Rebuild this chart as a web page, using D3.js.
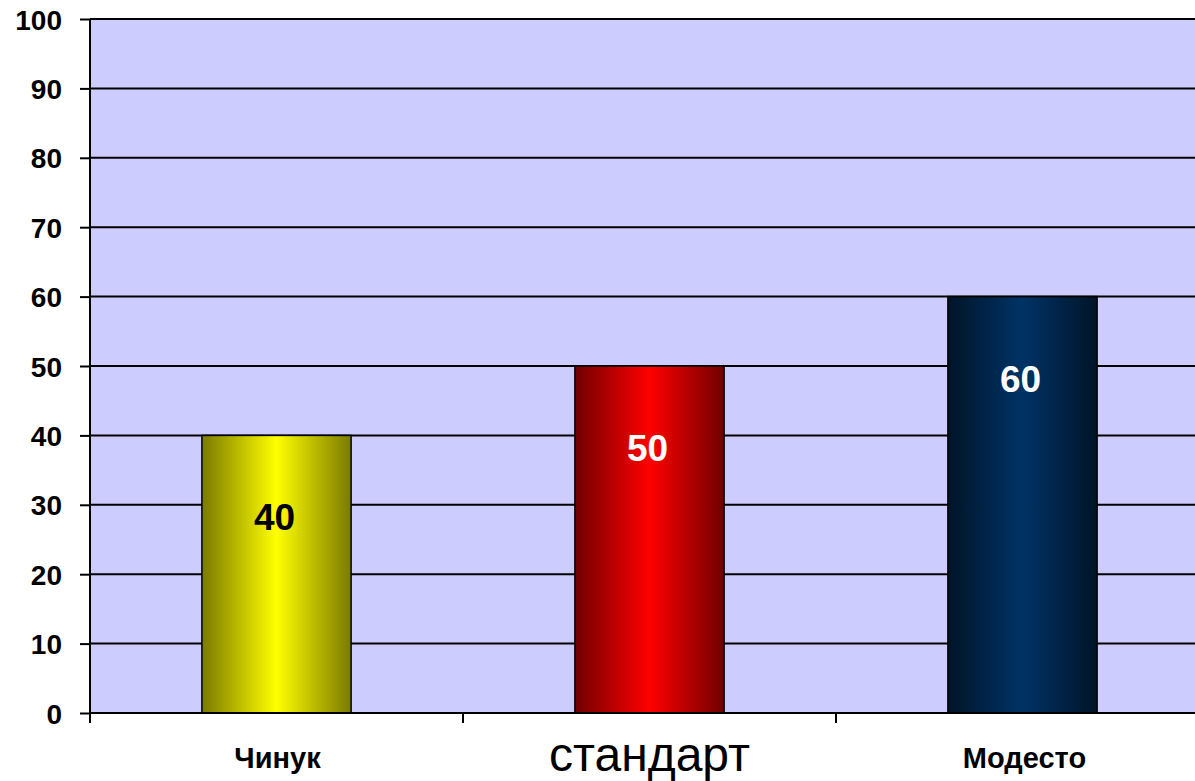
<!DOCTYPE html>
<html><head><meta charset="utf-8">
<script src="https://cdn.jsdelivr.net/npm/d3@7"></script>
<style>body{margin:0;background:#fff}svg{display:block}</style>
</head><body>
<svg id="c" width="1195" height="781"></svg>
<script>
const categories = ["Чинук", "стандарт", "Модесто"];
const values = [40, 50, 60];
const yTicks = [0,10,20,30,40,50,60,70,80,90,100];
const barColors = [["#7a7a00","#ffff00"],["#700000","#ff0000"],["#001428","#003366"]];
const labelColors = ["#000","#fff","#fff"];

const svg = d3.select("#c");
const mLeft = 90, mTop = 19, mBottom = 713, step = 373;
const x = d3.scaleBand().domain(categories).range([mLeft, mLeft + step*categories.length]).padding(0);
const y = d3.scaleLinear().domain([0,100]).range([mBottom, mTop]);

svg.append("rect").attr("x", mLeft).attr("y", mTop).attr("width", 1195-mLeft).attr("height", mBottom-mTop).attr("fill", "#ccccff");

const defs = svg.append("defs");
barColors.forEach((c,i)=>{
  const g = defs.append("linearGradient").attr("id","g"+i).attr("x1","0%").attr("x2","100%");
  g.append("stop").attr("offset","0%").attr("stop-color",c[0]);
  g.append("stop").attr("offset","50%").attr("stop-color",c[1]);
  g.append("stop").attr("offset","100%").attr("stop-color",c[0]);
});

svg.append("g").selectAll("line").data(yTicks.filter(d=>d>0)).join("line")
  .attr("x1", mLeft).attr("x2", 1195).attr("y1", d=>y(d)).attr("y2", d=>y(d))
  .attr("stroke","#000").attr("stroke-width",2);

const bw = x.bandwidth()*0.4;
svg.append("g").selectAll("rect").data(values).join("rect")
  .attr("x",(d,i)=>x(categories[i]) + x.bandwidth()/2 - bw/2)
  .attr("y", d=>y(d)).attr("width", bw).attr("height", d=>y(0)-y(d))
  .attr("fill",(d,i)=>`url(#g${i})`).attr("stroke","#000").attr("stroke-width",1.5);

svg.append("g").selectAll("text").data(values).join("text")
  .attr("x",(d,i)=>x(categories[i]) + x.bandwidth()/2 - 2)
  .attr("y", d=>y(d)+95)
  .attr("text-anchor","middle").attr("font-family","Liberation Sans, Arial, sans-serif")
  .attr("font-weight","bold").attr("font-size",37)
  .attr("fill",(d,i)=>labelColors[i]).text(d=>d);

const yAxis = d3.axisLeft(y).tickValues(yTicks).tickSize(10).tickPadding(18);
const ya = svg.append("g").attr("transform",`translate(${mLeft},0)`).call(yAxis);
ya.select(".domain").attr("stroke","#000").attr("stroke-width",2).attr("d",`M0,${mTop}V${mBottom}`);
ya.selectAll(".tick line").attr("stroke","#000").attr("stroke-width",2);
ya.selectAll(".tick text").attr("font-family","Liberation Sans, Arial, sans-serif")
  .attr("font-weight","bold").attr("font-size",28).attr("fill","#000").attr("dy","0.36em");

const xa = svg.append("g").attr("transform",`translate(0,${mBottom})`);
xa.append("line").attr("x1",mLeft).attr("x2",1195).attr("stroke","#000").attr("stroke-width",2);
xa.selectAll("line.t").data(categories).join("line").attr("class","t")
  .attr("x1",d=>x(d)).attr("x2",d=>x(d)).attr("y1",0).attr("y2",10)
  .attr("stroke","#000").attr("stroke-width",2);

const labelStyle = [{w:"bold",s:29,dy:55},{w:"normal",s:48,dy:58},{w:"bold",s:29,dy:55}];
svg.append("g").selectAll("text").data(categories).join("text")
  .attr("x", (d,i)=>x(d)+x.bandwidth()/2 + (i===0?1:(i===2?2:0)))
  .attr("y",(d,i)=>mBottom+labelStyle[i].dy)
  .attr("text-anchor","middle").attr("font-family","Liberation Sans, Arial, sans-serif")
  .attr("font-weight",(d,i)=>labelStyle[i].w).attr("font-size",(d,i)=>labelStyle[i].s)
  .attr("fill","#000").text(d=>d);
</script>
</body></html>
